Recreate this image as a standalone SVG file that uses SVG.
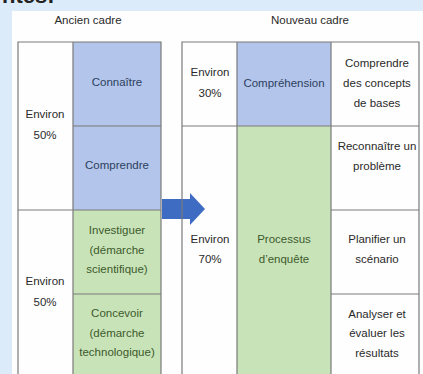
<svg xmlns="http://www.w3.org/2000/svg" width="423" height="374" viewBox="0 0 423 374">
<style>
.t{font-family:"Liberation Sans",Arial,sans-serif;font-size:11.5px;fill:#2a2a2a;text-anchor:middle}
.h{font-size:11.5px}
.tb{fill:#2c3f5e}
.tg{fill:#3c5a2c}
.ln{stroke:#7a7a7a;stroke-width:1.2;fill:none}
.blue{fill:#b3c5ea}
.green{fill:#c9e3b9}
</style>
<rect x="0" y="0" width="423" height="374" fill="#dcebf9"/>
<text x="2" y="2.5" font-family="Liberation Sans,Arial,sans-serif" font-size="22" font-weight="bold" fill="#222">ntes:</text>
<rect x="12" y="11" width="411" height="363" fill="#fefefe"/>
<text class="t h" x="88" y="24">Ancien cadre</text>
<text class="t h" x="310" y="24">Nouveau cadre</text>

<g id="old-table">
<rect class="blue" x="73" y="42" width="88" height="168"/>
<rect class="green" x="73" y="210" width="88" height="164"/>
<path class="ln" d="M18 380V42H161V380M73 42V380M18 210H161M73 126H161M73 294H161"/>
</g>
<g id="old-50a"><text class="t" x="45" y="118">Environ</text><text class="t" x="45" y="139">50%</text></g>
<g id="connaitre"><text class="t tb" x="117" y="86">Connaître</text></g>
<g id="comprendre"><text class="t tb" x="117" y="169">Comprendre</text></g>
<g id="old-50b"><text class="t" x="45" y="285">Environ</text><text class="t" x="45" y="306">50%</text></g>
<g id="investiguer"><text class="t tg" x="117" y="234">Investiguer</text><text class="t tg" x="117" y="253.5">(démarche</text><text class="t tg" x="117" y="273">scientifique)</text></g>
<g id="concevoir"><text class="t tg" x="117" y="317">Concevoir</text><text class="t tg" x="117" y="336.5">(démarche</text><text class="t tg" x="117" y="356">technologique)</text></g>

<g id="connectors">
<path d="M162 199H190V193L205 209L190 225V219H162Z" fill="#3d6cc2"/>
</g>

<g id="new-table">
<rect class="blue" x="237" y="42" width="94" height="84"/>
<rect class="green" x="237" y="126" width="94" height="248"/>
<path class="ln" d="M182 380V42H419V380M237 42V380M331 42V380M182 126H419M331 210H419M331 294H419"/>
</g>
<g id="new-30"><text class="t" x="210" y="76">Environ</text><text class="t" x="210" y="97">30%</text></g>
<g id="comprehension"><text class="t tb" x="284" y="87">Compréhension</text></g>
<g id="concepts"><text class="t" x="377" y="67">Comprendre</text><text class="t" x="377" y="87">des concepts</text><text class="t" x="377" y="107">de bases</text></g>
<g id="reconnaitre"><text class="t" x="377" y="150">Reconnaître un</text><text class="t" x="377" y="170">problème</text></g>
<g id="new-70"><text class="t" x="210" y="243">Environ</text><text class="t" x="210" y="263">70%</text></g>
<g id="processus"><text class="t tg" x="284" y="243">Processus</text><text class="t tg" x="284" y="263">d’enquête</text></g>
<g id="planifier"><text class="t" x="377" y="243">Planifier un</text><text class="t" x="377" y="263">scénario</text></g>
<g id="analyser"><text class="t" x="377" y="318">Analyser et</text><text class="t" x="377" y="337">évaluer les</text><text class="t" x="377" y="357">résultats</text></g>
</svg>
